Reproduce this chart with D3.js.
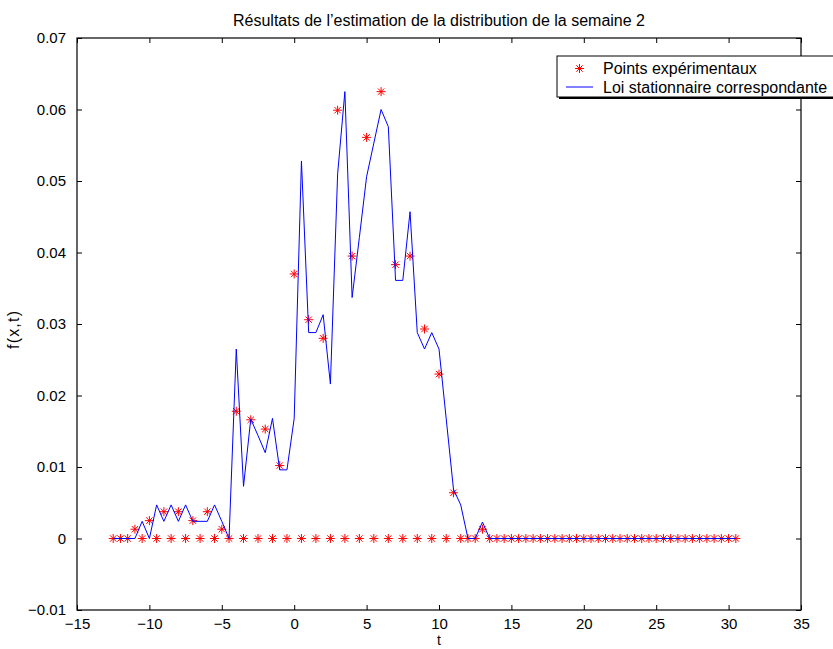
<!DOCTYPE html>
<html>
<head>
<meta charset="utf-8">
<script src="https://cdn.jsdelivr.net/npm/d3@7"></script>
<style>
  html, body { margin: 0; padding: 0; background: #fff; }
  svg { display: block; font-family: "Liberation Sans", Arial, Helvetica, sans-serif; }
</style>
</head>
<body>
<svg id="chart" width="833" height="649"></svg>
<script>
// Grid of t values (step 0.5)
const tValues = [
  -12.5, -12, -11.5, -11, -10.5, -10, -9.5, -9, -8.5, -8, -7.5, -7, -6.5, -6, -5.5, -5,
  -4.5, -4, -3.5, -3, -2.5, -2, -1.5, -1, -0.5, 0, 0.5, 1, 1.5, 2, 2.5, 3, 3.5, 4, 4.5,
  5, 5.5, 6, 6.5, 7, 7.5, 8, 8.5, 9, 9.5, 10, 10.5, 11, 11.5, 12, 12.5, 13, 13.5, 14,
  14.5, 15, 15.5, 16, 16.5, 17, 17.5, 18, 18.5, 19, 19.5, 20, 20.5, 21, 21.5, 22, 22.5,
  23, 23.5, 24, 24.5, 25, 25.5, 26, 26.5, 27, 27.5, 28, 28.5, 29, 29.5, 30, 30.5
];

// Experimental points (red stars)
const experimental = [
  0, 0, 0, 0.0013, 0, 0.0025, 0, 0.00375, 0, 0.00375, 0, 0.0025, 0, 0.00375, 0, 0.0013,
  0, 0.0178, 0, 0.0166, 0, 0.0153, 0, 0.0102, 0, 0.0370, 0, 0.0306, 0, 0.0280, 0, 0.0599,
  0, 0.0395, 0, 0.0561, 0, 0.0625, 0, 0.0383, 0, 0.0395, 0, 0.0293, 0, 0.0230, 0, 0.0064,
  0, 0, 0, 0.0013, 0, 0,
  0, 0, 0, 0, 0, 0, 0, 0, 0, 0, 0, 0, 0, 0, 0, 0, 0, 0, 0, 0, 0, 0, 0, 0, 0, 0, 0, 0, 0, 0, 0, 0, 0
];

// Fitted stationary law (blue line)
const stationary = [
  0, 0, 0, 0, 0.0024, 0, 0.0047, 0.0024, 0.0047, 0.0024, 0.0047, 0.0024, 0.0024, 0.0024,
  0.0047, 0.0024, 0, 0.0265, 0.0073, 0.0167, 0.0144, 0.0120, 0.0168, 0.0096, 0.0096, 0.0168,
  0.0528, 0.0288, 0.0288, 0.0313, 0.0216, 0.0510, 0.0625, 0.0337, 0.0421, 0.0506, 0.0553,
  0.0600, 0.0576, 0.0361, 0.0361, 0.0457, 0.0288, 0.0265, 0.0288, 0.0265, 0.0167, 0.0069,
  0.0047, 0, 0, 0.0023, 0, 0,
  0, 0, 0, 0, 0, 0, 0, 0, 0, 0, 0, 0, 0, 0, 0, 0, 0, 0, 0, 0, 0, 0, 0, 0, 0, 0, 0, 0, 0, 0, 0, 0, 0
];

const xTicks = [-15, -10, -5, 0, 5, 10, 15, 20, 25, 30, 35];
const yTicks = [-0.01, 0, 0.01, 0.02, 0.03, 0.04, 0.05, 0.06, 0.07];

const titleText = "Résultats de l’estimation de la distribution de la semaine 2";
const xLabel = "t";
const yLabel = "f(x,t)";
const legendLabels = ["Points expérimentaux", "Loi stationnaire correspondante"];

const svg = d3.select("#chart");
const plot = { left: 77, right: 801, top: 38, bottom: 610 };

const x = d3.scaleLinear().domain([-15, 35]).range([plot.left, plot.right]);
const y = d3.scaleLinear().domain([-0.01, 0.07]).range([plot.bottom, plot.top]);

const fmtY = v => (v < 0 ? "\u2212" : "") + (v === 0 ? "0" : d3.format(".2f")(Math.abs(v)));
const fmtX = v => (v < 0 ? "\u2212" : "") + Math.abs(v);

// Axes (ticks pointing inward, box on all four sides)
const tickLen = 5;
const fontSize = 15;

svg.append("g")
  .attr("transform", `translate(0,${plot.bottom})`)
  .call(d3.axisBottom(x).tickValues(xTicks).tickSizeInner(-tickLen).tickSizeOuter(0).tickPadding(8).tickFormat(fmtX))
  .call(g => g.select(".domain").remove())
  .call(g => g.selectAll("text").attr("font-size", fontSize).attr("fill", "#000").attr("font-family", null));

svg.append("g")
  .attr("transform", `translate(0,${plot.top})`)
  .call(d3.axisTop(x).tickValues(xTicks).tickSizeInner(-tickLen).tickSizeOuter(0).tickFormat(""))
  .call(g => g.select(".domain").remove());

svg.append("g")
  .attr("transform", `translate(${plot.left},0)`)
  .call(d3.axisLeft(y).tickValues(yTicks).tickSizeInner(-tickLen).tickSizeOuter(0).tickPadding(11).tickFormat(fmtY))
  .call(g => g.select(".domain").remove())
  .call(g => g.selectAll("text").attr("font-size", fontSize).attr("fill", "#000").attr("font-family", null));

svg.append("g")
  .attr("transform", `translate(${plot.right},0)`)
  .call(d3.axisRight(y).tickValues(yTicks).tickSizeInner(-tickLen).tickSizeOuter(0).tickFormat(""))
  .call(g => g.select(".domain").remove());

svg.selectAll(".tick line").attr("stroke", "#000");

// Frame
svg.append("rect")
  .attr("x", plot.left).attr("y", plot.top)
  .attr("width", plot.right - plot.left).attr("height", plot.bottom - plot.top)
  .attr("fill", "none").attr("stroke", "#000").attr("stroke-width", 1.2);

// Star marker (plus + cross), as used for the experimental points
function starPath(r) {
  const d = r * Math.SQRT1_2;
  return `M${-r},0L${r},0M0,${-r}L0,${r}M${-d},${-d}L${d},${d}M${-d},${d}L${d},${-d}`;
}

const pts = tValues.map((t, i) => ({ t, v: experimental[i] }));
svg.append("g").selectAll("path")
  .data(pts)
  .join("path")
  .attr("transform", d => `translate(${x(d.t)},${y(d.v)})`)
  .attr("d", starPath(4.5))
  .attr("fill", "none")
  .attr("stroke", "#ff0000")
  .attr("stroke-width", 1);

const lineData = tValues.map((t, i) => ({ t, v: stationary[i] }));
svg.append("path")
  .datum(lineData)
  .attr("d", d3.line().x(d => x(d.t)).y(d => y(d.v)))
  .attr("fill", "none")
  .attr("stroke", "#0000ff")
  .attr("stroke-width", 1);

// Titles
svg.append("text")
  .attr("x", (plot.left + plot.right) / 2).attr("y", 26)
  .attr("text-anchor", "middle").attr("font-size", 16)
  .attr("textLength", 412).attr("lengthAdjust", "spacing")
  .text(titleText);

svg.append("text")
  .attr("x", (plot.left + plot.right) / 2).attr("y", 645)
  .attr("text-anchor", "middle").attr("font-size", 14)
  .text(xLabel);

svg.append("text")
  .attr("transform", `translate(19,330) rotate(-90)`)
  .attr("text-anchor", "middle").attr("font-size", 16)
  .attr("textLength", 38).attr("lengthAdjust", "spacing")
  .text(yLabel);

// Legend
const lg = svg.append("g").attr("transform", "translate(557,56)");
lg.append("rect").attr("x", 2).attr("y", 2).attr("width", 300).attr("height", 41).attr("fill", "#000");
lg.append("rect").attr("x", 0).attr("y", 0).attr("width", 300).attr("height", 41)
  .attr("fill", "#fff").attr("stroke", "#000").attr("stroke-width", 1);
lg.append("path").attr("transform", "translate(22.5,12.5)").attr("d", starPath(4.5))
  .attr("fill", "none").attr("stroke", "#ff0000").attr("stroke-width", 1);
lg.append("line").attr("x1", 9).attr("x2", 36).attr("y1", 31).attr("y2", 31)
  .attr("stroke", "#0000ff").attr("stroke-width", 1);
lg.selectAll("text.lab").data(legendLabels).join("text")
  .attr("class", "lab")
  .attr("x", 46).attr("y", (d, i) => 17.5 + i * 19.5)
  .attr("font-size", 16)
  .text(d => d);
</script>
</body>
</html>
